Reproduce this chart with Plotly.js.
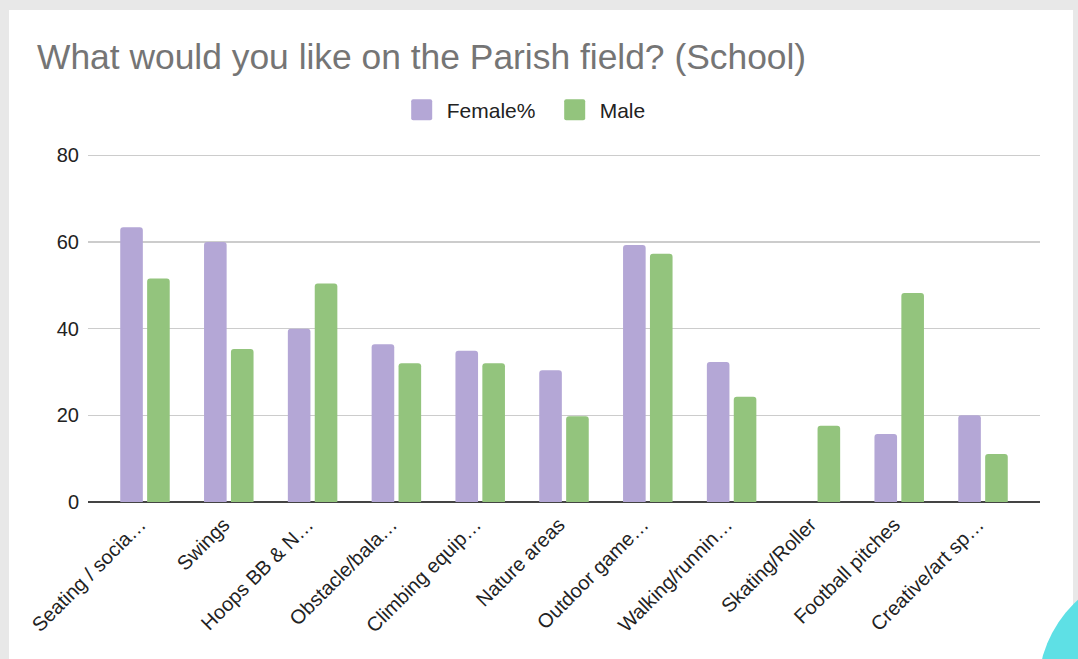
<!DOCTYPE html>
<html>
<head>
<meta charset="utf-8">
<script src="https://cdn.plot.ly/plotly-3.0.1.min.js"></script>
<style>
  html, body { margin: 0; padding: 0; width: 1078px; height: 659px; overflow: hidden; background: #e8e8e8; }
  #card { position: absolute; left: 9px; top: 10px; width: 1064px; height: 660px; background: #ffffff; }
  #chart { position: absolute; left: 0; top: 0; width: 1078px; height: 659px; }
  #blob { position: absolute; left: 1038px; top: 568px; width: 244px; height: 244px; border-radius: 50%; background: #5ee0e5; }
</style>
</head>
<body>
<div id="card"></div>
<div id="chart"></div>
<div id="blob"></div>
<script>
const categories = ["Seating / socia\u2026", "Swings", "Hoops BB & N\u2026", "Obstacle/bala\u2026", "Climbing equip\u2026", "Nature areas", "Outdoor game\u2026", "Walking/runnin\u2026", "Skating/Roller", "Football pitches", "Creative/art sp\u2026"];
const femaleValues = [63.4, 60.0, 40.0, 36.4, 34.9, 30.4, 59.3, 32.3, 0, 15.7, 20.0];
const maleValues = [51.6, 35.3, 50.4, 32.0, 32.0, 19.8, 57.3, 24.3, 17.6, 48.2, 11.1];
const yTicks = [0, 20, 40, 60, 80];

const font = "Liberation Sans, Arial, sans-serif";

const traces = [
  { type: "bar", name: "Female%", x: categories, y: femaleValues,
    marker: { color: "#b4a7d6", cornerradius: 3 }, hoverinfo: "x+y" },
  { type: "bar", name: "Male", x: categories, y: maleValues,
    marker: { color: "#93c47d", cornerradius: 3 }, hoverinfo: "x+y" }
];

const layout = {
  width: 1078, height: 659,
  paper_bgcolor: "rgba(0,0,0,0)", plot_bgcolor: "rgba(0,0,0,0)",
  margin: { l: 88, r: 38, t: 154, b: 157 },
  font: { family: font, color: "#222222" },
  title: { text: "What would you like on the Parish field? (School)",
    xref: "container", yref: "container", x: 37/1078, xanchor: "left",
    y: 1 - 57/659, yanchor: "middle",
    font: { family: font, size: 35.4, color: "#757575" } },
  barmode: "group", bargap: 0.358, bargroupgap: 0.16,
  showlegend: true,
  legend: { orientation: "h", xref: "container", yref: "container",
    x: 0.5192, xanchor: "center", y: 1 - 110/659, yanchor: "middle",
    entrywidthmode: "pixels", entrywidth: 108,
    font: { family: font, size: 21, color: "#222222" }, itemclick: false },
  xaxis: { type: "category", range: [-0.68, 10.68], tickangle: -45,
    showgrid: false, showline: false, zeroline: false, ticks: "",
    ticklabelstandoff: 6, ticklabelshift: -5,
    tickfont: { family: font, size: 20, color: "#222222" }, fixedrange: true },
  yaxis: { range: [0, 80.3], tickvals: yTicks, ticktext: yTicks.map(String),
    showgrid: true, gridcolor: "#cccccc", gridwidth: 1.5,
    zeroline: true, zerolinecolor: "#444444", zerolinewidth: 2,
    showline: false, ticks: "", ticklabelstandoff: 8,
    tickfont: { family: font, size: 20, color: "#222222" }, fixedrange: true }
};

Plotly.newPlot("chart", traces, layout, { displayModeBar: false, staticPlot: true }).then(function () {
  // enlarge the legend swatches to the larger rounded squares of the original
  const h = 10.5, r = 2, c = -5;
  const d = "M" + (c - h + r) + "," + (-h) + "H" + (c + h - r) + "Q" + (c + h) + "," + (-h) + " " + (c + h) + "," + (-h + r) +
            "V" + (h - r) + "Q" + (c + h) + "," + h + " " + (c + h - r) + "," + h +
            "H" + (c - h + r) + "Q" + (c - h) + "," + h + " " + (c - h) + "," + (h - r) +
            "V" + (-h + r) + "Q" + (c - h) + "," + (-h) + " " + (c - h + r) + "," + (-h) + "Z";
  document.querySelectorAll(".legend .legendpoints path").forEach(function (p) {
    p.setAttribute("d", d);
    p.style.strokeWidth = "0px";
  });
});
</script>
</body>
</html>
